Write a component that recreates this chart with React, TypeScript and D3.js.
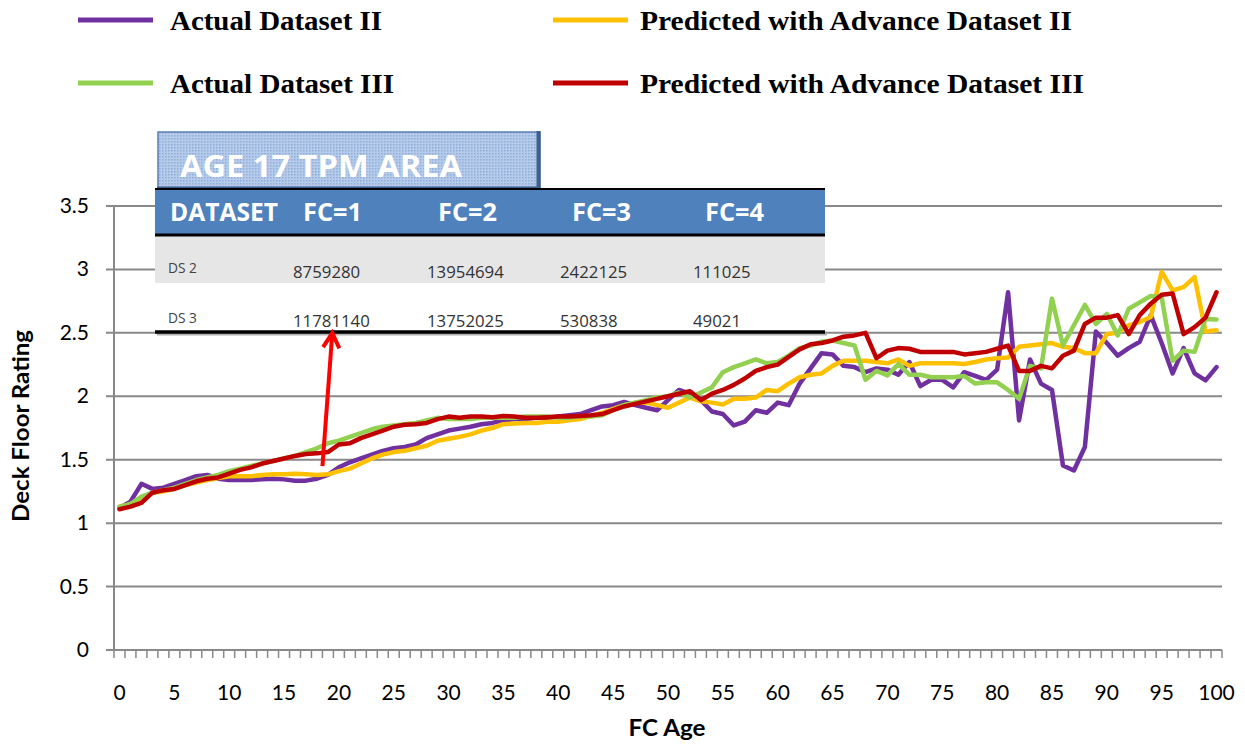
import React from "react";
import * as d3 from "d3";

const ages: number[] = d3.range(0, 101);

const actualDS2: number[] = [
  1.12, 1.17, 1.31, 1.27, 1.28, 1.31, 1.34, 1.37, 1.38, 1.35,
  1.34, 1.34, 1.34, 1.345, 1.35, 1.345, 1.335, 1.335, 1.35, 1.38,
  1.44, 1.48, 1.51, 1.54, 1.57, 1.59, 1.60, 1.62, 1.67, 1.70,
  1.73, 1.745, 1.76, 1.78, 1.79, 1.81, 1.82, 1.82, 1.83, 1.83,
  1.84, 1.85, 1.86, 1.89, 1.92, 1.93, 1.955, 1.93, 1.91, 1.89,
  1.97, 2.05, 2.02, 1.97, 1.88, 1.86, 1.77, 1.80, 1.89, 1.87,
  1.95, 1.93, 2.10, 2.22, 2.34, 2.33, 2.24, 2.23, 2.19, 2.22,
  2.21, 2.17, 2.27, 2.08, 2.13, 2.13, 2.07, 2.19, 2.16, 2.13,
  2.21, 2.82, 1.81, 2.29, 2.10, 2.05, 1.455, 1.415, 1.60, 2.51,
  2.42, 2.32, 2.38, 2.43, 2.64, 2.42, 2.18, 2.38, 2.18, 2.125,
  2.23,
];

const predictedDS2: number[] = [
  1.13, 1.15, 1.19, 1.24, 1.25, 1.27, 1.30, 1.32, 1.34, 1.355,
  1.37, 1.37, 1.37, 1.38, 1.385, 1.385, 1.39, 1.385, 1.38, 1.385,
  1.41, 1.43, 1.47, 1.51, 1.54, 1.56, 1.57, 1.59, 1.61, 1.65,
  1.665, 1.68, 1.70, 1.73, 1.75, 1.78, 1.785, 1.79, 1.79, 1.80,
  1.80, 1.81, 1.82, 1.845, 1.87, 1.90, 1.93, 1.95, 1.95, 1.93,
  1.91, 1.95, 1.99, 1.96, 1.95, 1.935, 1.98, 1.98, 1.99, 2.05,
  2.04, 2.10, 2.15, 2.17, 2.18, 2.24, 2.28, 2.28, 2.28, 2.27,
  2.26, 2.29, 2.24, 2.26, 2.26, 2.26, 2.26, 2.255, 2.27, 2.29,
  2.30, 2.305, 2.39, 2.40, 2.41, 2.42, 2.39, 2.38, 2.34, 2.34,
  2.49, 2.50, 2.56, 2.585, 2.625, 2.98, 2.835, 2.86, 2.94, 2.51,
  2.52,
];

const actualDS3: number[] = [
  1.13, 1.15, 1.21, 1.24, 1.26, 1.28, 1.31, 1.34, 1.36, 1.38,
  1.41, 1.43, 1.45, 1.47, 1.49, 1.51, 1.53, 1.56, 1.59, 1.63,
  1.65, 1.68, 1.71, 1.74, 1.76, 1.77, 1.78, 1.79, 1.81, 1.83,
  1.82, 1.82, 1.82, 1.83, 1.83, 1.83, 1.83, 1.84, 1.84, 1.84,
  1.83, 1.83, 1.84, 1.84, 1.85, 1.89, 1.93, 1.95, 1.97, 1.99,
  2.00, 2.03, 1.99, 2.03, 2.07, 2.19, 2.23, 2.26, 2.29, 2.26,
  2.27, 2.32, 2.38, 2.40, 2.43, 2.44, 2.42, 2.40, 2.13, 2.20,
  2.165, 2.255, 2.17, 2.17, 2.15, 2.15, 2.15, 2.16, 2.10, 2.11,
  2.11, 2.05, 1.98, 2.24, 2.22, 2.77, 2.40, 2.56, 2.72, 2.57,
  2.65, 2.48, 2.69, 2.74, 2.79, 2.78, 2.28, 2.36, 2.35, 2.61,
  2.605,
];

const predictedDS3: number[] = [
  1.11, 1.13, 1.16, 1.24, 1.26, 1.27, 1.30, 1.33, 1.35, 1.36,
  1.39, 1.42, 1.44, 1.47, 1.49, 1.51, 1.53, 1.545, 1.55, 1.56,
  1.62, 1.63, 1.67, 1.70, 1.73, 1.76, 1.775, 1.78, 1.79, 1.82,
  1.84, 1.83, 1.84, 1.84, 1.835, 1.845, 1.84, 1.83, 1.83, 1.835,
  1.84, 1.84, 1.845, 1.85, 1.86, 1.89, 1.92, 1.94, 1.96, 1.98,
  2.00, 2.02, 2.04, 1.97, 2.02, 2.05, 2.09, 2.14, 2.20, 2.23,
  2.25, 2.31, 2.37, 2.41, 2.42, 2.44, 2.47, 2.48, 2.50, 2.30,
  2.36, 2.38, 2.375, 2.35, 2.35, 2.35, 2.35, 2.33, 2.34, 2.35,
  2.375, 2.40, 2.20, 2.20, 2.24, 2.22, 2.32, 2.36, 2.57, 2.62,
  2.62, 2.64, 2.49, 2.64, 2.73, 2.80, 2.81, 2.49, 2.545, 2.62,
  2.82,
];

const yTicks: number[] = [0, 0.5, 1, 1.5, 2, 2.5, 3, 3.5];
const xLabelTicks: number[] = d3.range(0, 101, 5);

const seriesNames: string[] = [
  "Actual Dataset II",
  "Predicted with Advance Dataset II",
  "Actual Dataset III",
  "Predicted with Advance Dataset III",
];
const seriesColors: string[] = ["#7030A0", "#FFC000", "#92D050", "#C00000"];

const tableTitle = "AGE 17 TPM AREA";
const tableHeaders: string[] = ["DATASET", "FC=1", "FC=2", "FC=3", "FC=4"];
const tableRowLabels: string[] = ["DS 2", "DS 3"];
const tableDS2: string[] = ["8759280", "13954694", "2422125", "111025"];
const tableDS3: string[] = ["11781140", "13752025", "530838", "49021"];

// arrow in data space: from (age, rating) to (age, rating)
const arrowFrom: [number, number] = [18.5, 1.45];
const arrowTo: [number, number] = [19.4, 2.5];

export default function App() {
  const W = 1245;
  const H = 745;
  const left = 114;
  const right = 1222;
  const top = 206;
  const bottom = 650;

  const xBand = d3
    .scaleBand<number>()
    .domain(ages)
    .range([left, right])
    .padding(0);
  const bw = xBand.bandwidth();
  const xc = (i: number) => (xBand(i) as number) + bw / 2;
  const xLin = d3.scaleLinear().domain([0, 100]).range([xc(0), xc(100)]);
  const y = d3.scaleLinear().domain([0, 3.5]).range([bottom, top]);

  const line = d3
    .line<number>()
    .x((_, i) => xc(i))
    .y((d) => y(d));

  const allSeries = [actualDS2, predictedDS2, actualDS3, predictedDS3];

  const gridColor = "#898989";
  const labelFont = "Lato, 'Open Sans', sans-serif";

  const legendPos = [
    { sx: 78, tx: 170, y: 20, len: 212 },
    { sx: 553, tx: 640, y: 20, len: 432 },
    { sx: 78, tx: 170, y: 83, len: 224 },
    { sx: 553, tx: 640, y: 83, len: 444 },
  ];

  const colText = [293, 427, 560, 693];
  const colHead = [303, 438, 572, 705];
  const colHeadLen = [59, 59, 59, 59];

  const ax0 = xLin(arrowFrom[0]);
  const ay0 = y(arrowFrom[1]);
  const ax1 = xLin(arrowTo[0]);
  const ay1 = y(arrowTo[1]);
  const ang = Math.atan2(ay1 - ay0, ax1 - ax0);
  const headLen = 17;
  const headAng = 0.5;
  const hL: [number, number] = [
    ax1 - headLen * Math.cos(ang - headAng),
    ay1 - headLen * Math.sin(ang - headAng),
  ];
  const hR: [number, number] = [
    ax1 - headLen * Math.cos(ang + headAng),
    ay1 - headLen * Math.sin(ang + headAng),
  ];

  return (
    <svg
      width={W}
      height={H}
      viewBox={`0 0 ${W} ${H}`}
      style={{ position: "absolute", left: 0, top: 0, background: "#fff" }}
    >
      <defs>
        <pattern id="dots" width="3" height="3" patternUnits="userSpaceOnUse">
          <rect width="3" height="3" fill="#b6cbe9" />
          <rect width="1.5" height="1.5" fill="#8eaedb" />
        </pattern>
      </defs>
      <rect x={0} y={0} width={W} height={H} fill="#fff" />

      {yTicks.map((t) => (
        <line
          key={`g${t}`}
          x1={left - 8}
          x2={right}
          y1={y(t)}
          y2={y(t)}
          stroke={gridColor}
          strokeWidth={2}
        />
      ))}
      <line x1={left} x2={left} y1={top} y2={bottom} stroke={gridColor} strokeWidth={2} />
      {d3.range(0, 102).map((k) => (
        <line
          key={`xt${k}`}
          x1={left + k * bw}
          x2={left + k * bw}
          y1={bottom}
          y2={bottom + 8}
          stroke={gridColor}
          strokeWidth={1.5}
        />
      ))}
      {yTicks.map((t) => (
        <text
          key={`yl${t}`}
          x={89}
          y={y(t) + 7}
          textAnchor="end"
          fontFamily={labelFont}
          fontSize={21}
          fill="#000"
        >
          {String(t)}
        </text>
      ))}
      {xLabelTicks.map((t) => (
        <text
          key={`xl${t}`}
          x={xc(t)}
          y={700}
          textAnchor="middle"
          fontFamily={labelFont}
          fontSize={21}
          fill="#000"
        >
          {String(t)}
        </text>
      ))}
      <text
        x={667}
        y={736}
        textAnchor="middle"
        fontFamily={labelFont}
        fontWeight="bold"
        fontSize={22}
        textLength={77}
        lengthAdjust="spacingAndGlyphs"
      >
        FC Age
      </text>
      <text
        transform={`translate(29,426) rotate(-90)`}
        textAnchor="middle"
        fontFamily={labelFont}
        fontWeight="bold"
        fontSize={22}
        textLength={192}
        lengthAdjust="spacingAndGlyphs"
      >
        Deck Floor Rating
      </text>

      {allSeries.map((s, k) => (
        <path
          key={`s${k}`}
          d={line(s) || ""}
          fill="none"
          stroke={seriesColors[k]}
          strokeWidth={4.5}
          strokeLinejoin="round"
          strokeLinecap="round"
        />
      ))}

      {/* table title box */}
      <rect x={158} y={132} width={382} height={58} fill="url(#dots)" stroke="#5a7fb3" strokeWidth={1.5} />
      <line x1={538.5} x2={538.5} y1={131} y2={191} stroke="#3d5f8f" strokeWidth={4} />
      <line x1={157} x2={540} y1={188.5} y2={188.5} stroke="#3d5f8f" strokeWidth={4} />
      <text
        x={180}
        y={176.5}
        fontFamily="'Open Sans', sans-serif"
        fontWeight="bold"
        fontSize={30}
        fill="#fff"
        textLength={282}
        lengthAdjust="spacingAndGlyphs"
      >
        {tableTitle}
      </text>

      {/* table body */}
      <rect x={155} y={189} width={670} height={46} fill="#4f81bd" />
      <rect x={155} y={236} width={670} height={47} fill="#e6e6e6" />
      <rect x={155} y={283} width={670} height={48} fill="#ffffff" />
      <line x1={155} x2={825} y1={189} y2={189} stroke="#000" strokeWidth={2} />
      <line x1={155} x2={825} y1={235} y2={235} stroke="#000" strokeWidth={3} />
      <line x1={157} x2={827} y1={334.5} y2={334.5} stroke="#b0b0b0" strokeWidth={2} />
      <line x1={155} x2={825} y1={332} y2={332} stroke="#000" strokeWidth={3.5} />

      <text
        x={170}
        y={221}
        fontFamily="'Open Sans', sans-serif"
        fontWeight="bold"
        fontSize={25}
        fill="#fff"
        textLength={108}
        lengthAdjust="spacingAndGlyphs"
      >
        {tableHeaders[0]}
      </text>
      {tableHeaders.slice(1).map((h, i) => (
        <text
          key={`h${i}`}
          x={colHead[i]}
          y={221}
          fontFamily="'Open Sans', sans-serif"
          fontWeight="bold"
          fontSize={25}
          fill="#fff"
          textLength={colHeadLen[i]}
          lengthAdjust="spacingAndGlyphs"
        >
          {h}
        </text>
      ))}

      {tableRowLabels.map((r, i) => (
        <text
          key={`r${i}`}
          x={168}
          y={i === 0 ? 273 : 323}
          fontFamily="'Open Sans', sans-serif"
          fontSize={14}
          fill="#444"
          textLength={29}
          lengthAdjust="spacingAndGlyphs"
        >
          {r}
        </text>
      ))}
      {[tableDS2, tableDS3].map((row, ri) =>
        row.map((v, ci) => (
          <text
            key={`v${ri}${ci}`}
            x={colText[ci]}
            y={ri === 0 ? 278 : 327}
            fontFamily="'Open Sans', sans-serif"
            fontSize={15.5}
            fill="#333"
            textLength={v.length * 9.6}
            lengthAdjust="spacingAndGlyphs"
          >
            {v}
          </text>
        ))
      )}

      <line x1={ax0} y1={ay0} x2={ax1} y2={ay1} stroke="#FF0000" strokeWidth={4} />
      <polyline
        points={`${hL[0]},${hL[1]} ${ax1},${ay1} ${hR[0]},${hR[1]}`}
        fill="none"
        stroke="#FF0000"
        strokeWidth={4}
      />

      {seriesNames.map((n, k) => (
        <g key={`lg${k}`}>
          <line
            x1={legendPos[k].sx}
            x2={legendPos[k].sx + 75}
            y1={legendPos[k].y}
            y2={legendPos[k].y}
            stroke={seriesColors[k]}
            strokeWidth={5}
          />
          <text
            x={legendPos[k].tx}
            y={legendPos[k].y + 9.5}
            fontFamily="'Liberation Serif', 'Times New Roman', serif"
            fontWeight="bold"
            fontSize={27}
            fill="#000"
            textLength={legendPos[k].len}
            lengthAdjust="spacingAndGlyphs"
          >
            {n}
          </text>
        </g>
      ))}
    </svg>
  );
}
